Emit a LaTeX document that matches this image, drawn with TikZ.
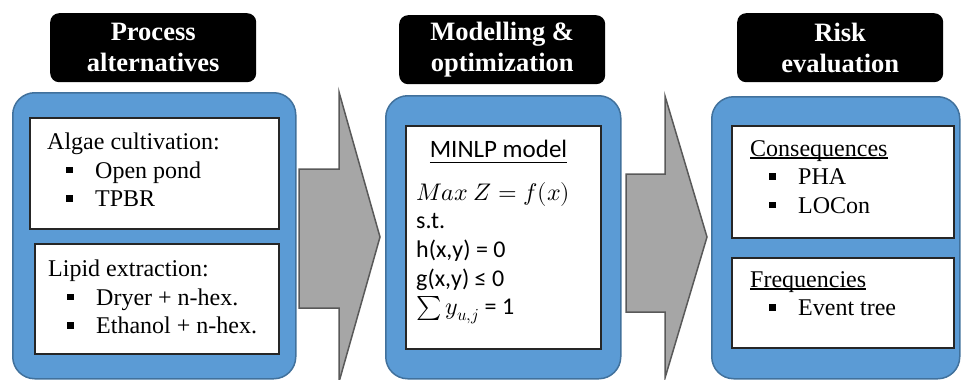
\documentclass[tikz,border=0pt]{standalone}
\usepackage{fontspec}
\usepackage{unicode-math}
\setmainfont{Liberation Serif}
\setmathfont{Latin Modern Math}
\newfontfamily\calib{Carlito}
\usepackage{tikz}
\usetikzlibrary{positioning}

\definecolor{panelblue}{HTML}{5B9BD5}
\definecolor{panelline}{HTML}{41719C}
\definecolor{arrowgray}{HTML}{A6A6A6}
\definecolor{arrowline}{HTML}{595959}

\newlength\ulw
\newcommand{\ulin}[2][-2.5pt]{\settowidth{\ulw}{#2}\rlap{\rule[#1]{\ulw}{1.1pt}}#2}
\newcommand{\sqb}{\rule[5pt]{6.5pt}{6.5pt}}
\newcommand{\bitem}[1]{\hspace*{19pt}\makebox[29pt][l]{\sqb}#1}

\tikzset{
  panel/.style={draw=panelline, line width=1.5pt, fill=panelblue, rounded corners=22pt, anchor=north west},
  titlebox/.style={fill=black, rounded corners=9pt, text=white, font=\fontsize{26.5}{31}\selectfont\bfseries, align=center, anchor=north west, minimum width=206pt, minimum height=69pt, inner sep=0pt},
  itembox/.style={draw=black!85, line width=2pt, fill=white, anchor=north west},
  itemtext/.style={align=left, font=\fontsize{24}{28.5}\selectfont, inner sep=0pt, anchor=north west},
  flowarrow/.style={draw=arrowline, line width=1.5pt, fill=arrowgray, line join=miter}
}

\begin{document}
\begin{tikzpicture}[x=1pt,y=-1pt]
\useasboundingbox (0,0) rectangle (961,380);

% titles
\node[titlebox] (t1) at (50,13) {Process\\alternatives};
\node[titlebox] (t2) at (399,15) {Modelling \&\\optimization};
\node[titlebox] (t3) at (737,13) {Risk\\evaluation};

% blue panels
\node[panel, minimum width=283pt, minimum height=286pt] (p1) at (12,92) {};
\node[panel, minimum width=235pt, minimum height=283pt] (p2) at (385,95) {};
\node[panel, minimum width=248pt, minimum height=282pt] (p3) at (711,96) {};

% arrows between panels
\draw[flowarrow] (299,169) -- (339,169) -- (339,92) -- (380,237) -- (339,382) -- (339,308) -- (299,308) -- cycle;
\draw[flowarrow] (626,174) -- (665,174) -- (665,96) -- (707,237) -- (665,378) -- (665,312) -- (626,312) -- cycle;

% process alternatives
\node[itembox, minimum width=249pt, minimum height=111pt] (alg) at (29,117) {};
\node[itemtext, xshift=18pt, yshift=-16pt] (algtext) at (alg.north west) {Algae cultivation:\\\bitem{Open pond}\\\bitem{TPBR}};
\node[itembox, minimum width=244pt, minimum height=110pt] (lip) at (34,243) {};
\node[itemtext, xshift=14pt, yshift=-17pt] (liptext) at (lip.north west) {Lipid extraction:\\\bitem{Dryer + n-hex.}\\\bitem{Ethanol + n-hex.}};

% model
\node[itembox, minimum width=195pt, minimum height=223pt] (mod) at (405,125) {};
\node[anchor=base, inner sep=0pt, font=\calib\fontsize{25}{28.7}\selectfont, yshift=-32pt, xshift=-5pt] (modtitle) at (mod.north) {\ulin[-6pt]{MINLP model}};
\node[itemtext, font=\calib\fontsize{24}{28.7}\selectfont, xshift=11pt, yshift=-57pt] (modtext) at (mod.north west) {$Max\ Z=f(x)$\\s.t.\\h(x,y) = 0\\g(x,y) ≤ 0\\$\sum y_{u,j}$ = 1};

% risk evaluation
\node[itembox, minimum width=222pt, minimum height=112pt] (cons) at (731,125) {};
\node[itemtext, xshift=19pt, yshift=-15pt] (constext) at (cons.north west) {\ulin{Consequences}\\\bitem{PHA}\\\bitem{LOCon}};
\node[itembox, minimum width=222pt, minimum height=90pt] (freq) at (731,257) {};
\node[itemtext, xshift=19pt, yshift=-14pt] (freqtext) at (freq.north west) {\ulin{Frequencies}\\\bitem{Event tree}};
\end{tikzpicture}
\end{document}
